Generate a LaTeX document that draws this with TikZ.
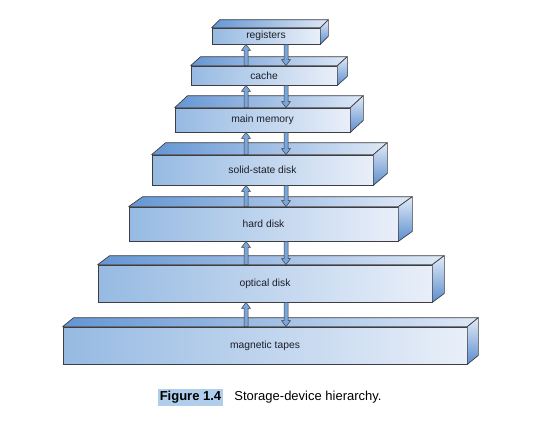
\documentclass[tikz,border=0pt]{standalone}
\usepackage{fontspec}
\setmainfont{Liberation Sans}
\usetikzlibrary{calc,positioning}

\definecolor{frontL}{RGB}{150,186,226}
\definecolor{frontR}{RGB}{233,239,249}
\definecolor{topL}{RGB}{100,150,212}
\definecolor{topR}{RGB}{222,232,246}
\definecolor{sideT}{RGB}{226,234,247}
\definecolor{sideB}{RGB}{92,142,206}
\definecolor{flowblue}{RGB}{122,166,218}
\definecolor{edge}{RGB}{62,62,66}
\definecolor{ink}{RGB}{30,30,40}
\definecolor{tagblue}{RGB}{176,206,236}

\tikzset{every picture/.style={line width=0.7pt}}
\tikzset{
  tier/.style={draw=edge, left color=frontL, right color=frontR, inner sep=0pt,
    text=ink, font=\fontsize{10.3}{12}\selectfont},
  topface/.style={draw=edge, left color=topL, right color=topR, line join=round},
  sideface/.style={draw=edge, top color=sideT, bottom color=sideB, line join=round},
  flow/.style={draw=edge, fill=flowblue, line width=0.5pt, line join=miter,
    to path={let \p1=(\tikztostart), \p2=(\tikztotarget),
      \p3=($(\tikztotarget)!6pt!(\tikztostart)$) in
      (\x1-2pt,\y1) -- (\x1-2pt,\y3) -- (\x1-4.5pt,\y3) -- (\x2,\y2)
      -- (\x1+4.5pt,\y3) -- (\x1+2pt,\y3) -- (\x1+2pt,\y1) -- cycle}},
  figtag/.style={fill=tagblue, inner xsep=1.5pt, inner ysep=2pt,
    font=\fontsize{13}{15}\selectfont\bfseries, text=black},
  figtext/.style={inner sep=0pt, font=\fontsize{13}{15}\selectfont, text=black}
}

% name, centre, width, height, dx, dy, label
\newcommand{\tierbox}[7]{%
  \node[tier, minimum width=#3pt, minimum height=#4pt] (#1) at (#2) {#7};
  \shadedraw[topface] (#1.north west) -- ++(#5,-#6) -- ($(#1.north east)+(#5,-#6)$) -- (#1.north east) -- cycle;
  \shadedraw[sideface] (#1.north east) -- ++(#5,-#6) -- ($(#1.south east)+(#5,-#6)$) -- (#1.south east) -- cycle;
}

\begin{document}
\begin{tikzpicture}[x=1pt,y=-1pt]
	\useasboundingbox (0,0) rectangle (535,424);

	% Storage tiers, top to bottom
	\tierbox{reg}{266,36}{108}{16}{8}{8}{registers}
	\tierbox{cache}{264,75.5}{146}{19}{10}{9}{cache}
	\tierbox{mem}{262.5,120}{175}{24}{13}{12}{main memory}
	\tierbox{ssd}{262.5,170}{221}{30}{14}{12}{solid-state disk}
	\tierbox{hdd}{263.5,224}{269}{34}{14}{10}{hard disk}
	\tierbox{opt}{265,283.5}{334}{37}{12}{9}{optical disk}
	\tierbox{tape}{265,345.5}{404}{37}{11}{9}{magnetic tapes}

	% Transfer arrows
	\coordinate (upx) at (246,0);
	\coordinate (downx) at (286,0);
	\foreach \hi/\lo in {reg/cache, cache/mem, mem/ssd, ssd/hdd, hdd/opt, opt/tape}{
		\draw[flow] (\lo.north -| upx) to (\hi.south -| upx);
		\draw[flow] (\hi.south -| downx) to (\lo.north -| downx);
	}

	% Caption
	\node[figtag] (tag) at (190.5,397.5) {Figure 1.4};
	\node[figtext, right=11pt of tag] (cap) {Storage-device hierarchy.};

\end{tikzpicture}
\end{document}
